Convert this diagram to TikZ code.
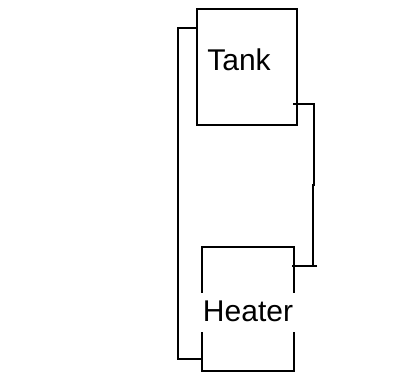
\documentclass[tikz,border=0pt]{standalone}
\usepackage{fontspec}
\setmainfont{Liberation Sans}
\begin{document}
\begin{tikzpicture}[x=1pt,y=-1pt,line width=2pt,
  boxshape/.style={draw,rectangle,minimum width=#1,inner sep=0pt},
  lbl/.style={font=\fontsize{30}{33}\selectfont,inner sep=0pt}]
\useasboundingbox (0,0) rectangle (398,388);
\node[boxshape=100pt,minimum height=116pt] (tank) at (247,67) {};
\node[lbl,anchor=base] (tanklbl) at (239,70) {Tank};
\node[boxshape=92pt,minimum height=124pt] (heater) at (248,309) {};
\node[lbl,anchor=base,fill=white,text height=28pt,text depth=11pt,minimum width=97pt] (heaterlbl) at (248,321) {Heater};
\coordinate (l1) at (178,28);
\coordinate (l2) at (178,359);
\draw (tank.west |- l1) -- (l1) -- (l2) -- (heater.west |- l2);
\coordinate (r0) at (293,104);
\coordinate (r1) at (314,104);
\coordinate (r2) at (314,185);
\coordinate (r3) at (313,185);
\coordinate (r4) at (313,266);
\coordinate (r5) at (317,266);
\coordinate (r6) at (292,266);
\draw (r0) -- (r1) -- (r2) -- (r3) -- (r4);
\draw (r5) -- (r6);
\end{tikzpicture}
\end{document}
